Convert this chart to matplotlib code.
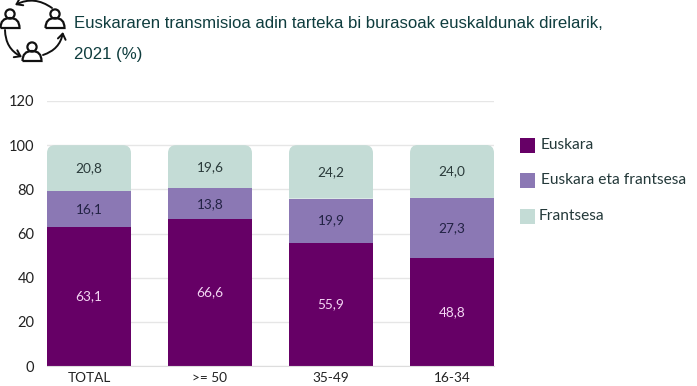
import matplotlib
matplotlib.use("Agg")
import matplotlib.pyplot as plt
import numpy as np
from matplotlib.patches import PathPatch, Rectangle, Circle, FancyArrowPatch
from matplotlib.path import Path

categories = ["TOTAL", ">= 50", "35-49", "16-34"]
euskara = [63.1, 66.6, 55.9, 48.8]
biak = [16.1, 13.8, 19.9, 27.3]
frantsesa = [20.8, 19.6, 24.2, 24.0]
series_names = ["Euskara", "Euskara eta frantsesa", "Frantsesa"]
yticks = [0, 20, 40, 60, 80, 100, 120]
title_lines = ["Euskararen transmisioa adin tarteka bi burasoak euskaldunak direlarik,", "2021 (%)"]
fmt = lambda v: f"{v:.1f}".replace(".", ",")

W, H = 697, 386
plt.rcParams["font.family"] = ["Lato", "DejaVu Sans"]

C_EUS, C_BI, C_FR = "#660066", "#8B78B4", "#C4DCD6"
C_TXT = "#222222"; C_TITLE = "#0F3D3E"

fig = plt.figure(figsize=(W/100, H/100), dpi=100, facecolor="white")
ax = fig.add_axes([47/W, 1-366/H, (494-47)/W, (366-101)/H])
ax.set_xlim(-0.347, 3.347); ax.set_ylim(0, 120)
x = np.arange(len(categories)); width = 0.694
b1 = ax.bar(x, euskara, width, color=C_EUS, zorder=3)
b2 = ax.bar(x, biak, width, bottom=euskara, color=C_BI, zorder=3)
bot3 = np.array(euskara)+np.array(biak)
b3 = ax.bar(x, frantsesa, width, bottom=bot3, color=C_FR, zorder=3)

# rounded upper corners of the top segment, by clipping the bar
rx = 8/121.0; ry = 8/(265/120)
for r in b3:
    x0, x1 = r.get_x(), r.get_x()+r.get_width()
    y0, y1 = r.get_y(), r.get_y()+r.get_height()
    verts = [(x0,y0),(x0,y1-ry),(x0,y1),(x0+rx,y1),(x1-rx,y1),(x1,y1),(x1,y1-ry),(x1,y0),(x0,y0)]
    codes = [Path.MOVETO,Path.LINETO,Path.CURVE3,Path.CURVE3,Path.LINETO,Path.CURVE3,Path.CURVE3,Path.LINETO,Path.CLOSEPOLY]
    clip = PathPatch(Path(verts,codes), transform=ax.transData)
    r.set_clip_path(clip)

for bars, vals, col in [(b1,euskara,"#F4D6F4"),(b2,biak,"#222244"),(b3,frantsesa,"#2A3A3A")]:
    for r, v in zip(bars, vals):
        ax.text(r.get_x()+r.get_width()/2, r.get_y()+v/2, fmt(v), ha="center", va="center",
                fontsize=9.8, color=col, zorder=4)

ax.set_yticks(yticks); ax.set_xticks(x, categories)
ax.tick_params(length=0, labelcolor=C_TXT)
ax.tick_params(axis="y", pad=9, labelsize=10.5); ax.tick_params(axis="x", pad=4, labelsize=9.8)
ax.grid(axis="y", color="#E6E6E6", lw=1, zorder=0)
ax.grid(axis="x", visible=False)
for s in ["top","right","left"]:
    ax.spines[s].set_visible(False)
ax.spines["bottom"].set_color("#DDDDDD")
ax.spines["bottom"].set_zorder(5)

# overlay in pixel coordinates
ov = fig.add_axes([0,0,1,1]); ov.set_xlim(0,W); ov.set_ylim(H,0); ov.axis("off"); ov.patch.set_alpha(0)
ov.text(74, 23, title_lines[0], fontsize=12.1, color=C_TITLE, va="center", ha="left", family="Liberation Sans")
ov.text(74, 55, title_lines[1], fontsize=12.1, color=C_TITLE, va="center", ha="left", family="Liberation Sans")

for (yy, c, lx, name) in [(146,C_EUS,541,series_names[0]),(181,C_BI,541,series_names[1]),(217,C_FR,539,series_names[2])]:
    ov.add_patch(Rectangle((520,yy-8),15,15,color=c,lw=0))
    ov.text(lx, yy-1, name, fontsize=11.2, color="#24393A", va="center", ha="left")

INK = "#111111"
def person(cx, head_y, base_y):
    ov.add_patch(Circle((cx, head_y), 4.6, fill=False, ec=INK, lw=1.6))
    v = [(cx-9.5,base_y),(cx-9.5,base_y-10),(cx,base_y-10),(cx+9.5,base_y-10),(cx+9.5,base_y),(cx-9.5,base_y)]
    c = [Path.MOVETO,Path.CURVE3,Path.CURVE3,Path.CURVE3,Path.CURVE3,Path.LINETO]
    ov.add_patch(PathPatch(Path(v,c),fill=False,ec=INK,lw=1.6))
person(10,14,28); person(55,14,28); person(32,47,61)
for a,b,rad in [((52,8),(15,5),0.3),((5,30),(22,57),0.3),((43,55),(63,32),0.3)]:
    ov.add_patch(FancyArrowPatch(a,b,connectionstyle=f"arc3,rad={rad}",arrowstyle="->,head_length=4,head_width=2.8",
                                 color=INK,lw=1.4,shrinkA=0,shrinkB=0,mutation_scale=1))
fig.savefig("out.png", dpi=100)
